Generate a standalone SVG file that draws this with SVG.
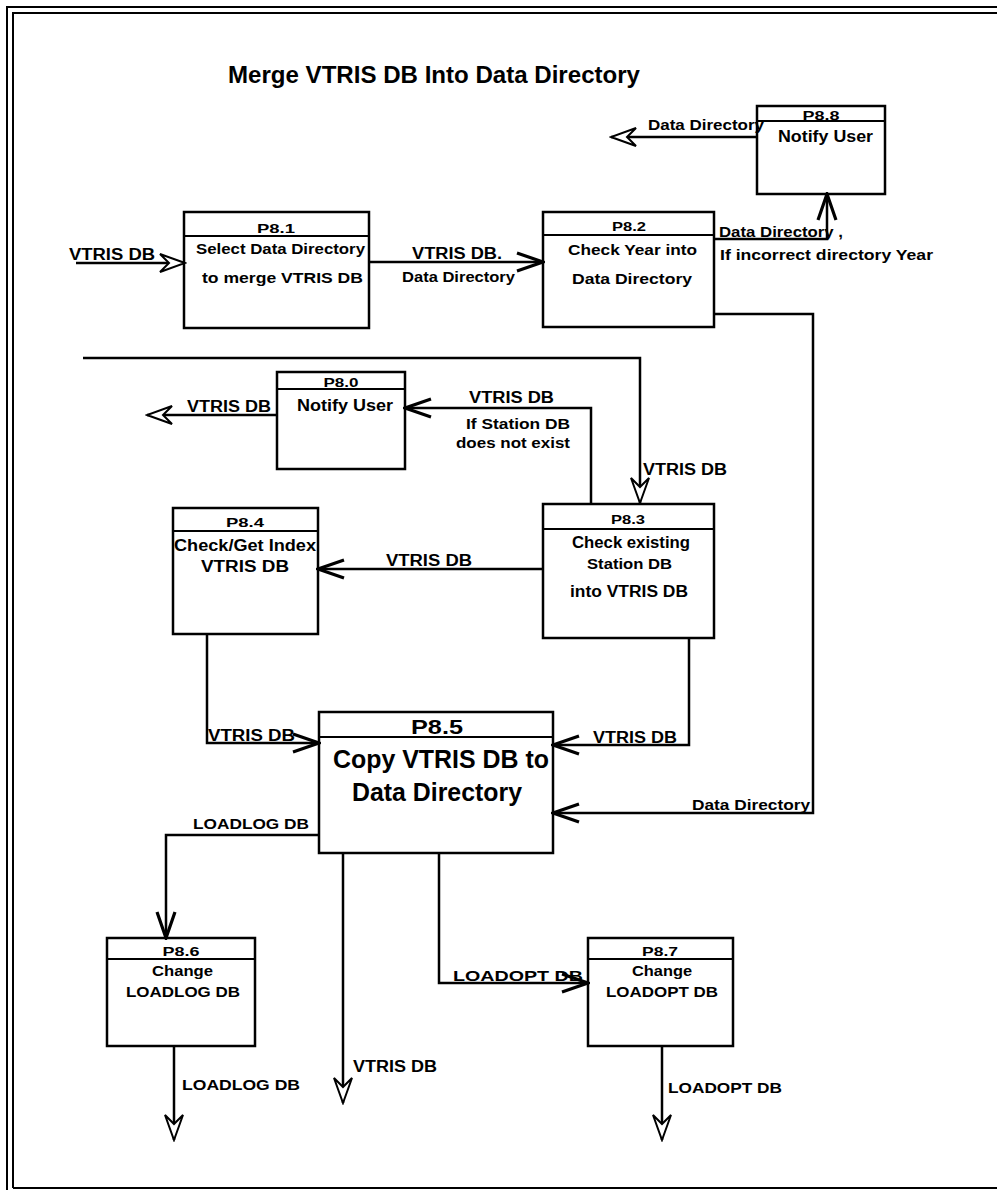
<svg xmlns="http://www.w3.org/2000/svg" width="997" height="1190" viewBox="0 0 997 1190">
<style>
.box{fill:#fff;stroke:#000;stroke-width:2.5}
.div{stroke:#000;stroke-width:2}
.conn{fill:none;stroke:#000;stroke-width:2.5}
.frame{fill:none;stroke:#000;stroke-width:2}
text{font-family:"Liberation Sans",Arial,sans-serif;font-weight:bold;fill:#000}
.t{font-size:15px}
.h{font-size:13px;text-anchor:middle}
.b{font-size:16px}
</style>
<defs>
<marker id="sa" viewBox="-30 -12 32 24" refX="0" refY="0" markerWidth="32" markerHeight="24" orient="auto" markerUnits="userSpaceOnUse">
<path d="M-26,-9 L0,0 L-26,9" fill="none" stroke="#000" stroke-width="3.2"/>
</marker>
<marker id="ha" viewBox="-30 -12 32 24" refX="0" refY="0" markerWidth="32" markerHeight="24" orient="auto" markerUnits="userSpaceOnUse">
<path d="M0,0 L-25,-9 L-16,0 L-25,9 Z" fill="#fff" stroke="#000" stroke-width="2"/>
</marker>
</defs>
<rect width="997" height="1190" fill="#fff"/>
<g id="frame">
<path class="frame" d="M7,1190 V7 H997"/>
<path class="frame" d="M13,1188 V13 H997 M13,1188 H997"/>
</g>
<text id="title" x="228" y="83" font-size="24" textLength="412" lengthAdjust="spacingAndGlyphs">Merge VTRIS DB Into Data Directory</text>

<g id="P8.1">
<rect class="box" x="184" y="212" width="185" height="116"/>
<line class="div" x1="184" y1="236" x2="369" y2="236"/>
<text class="h" x="276" y="233" textLength="38" lengthAdjust="spacingAndGlyphs">P8.1</text>
<text class="t" x="196" y="254" textLength="169" lengthAdjust="spacingAndGlyphs">Select Data Directory</text>
<text class="t" x="202" y="283" textLength="161" lengthAdjust="spacingAndGlyphs">to merge VTRIS DB</text>
</g>
<g id="P8.2">
<rect class="box" x="543" y="212" width="171" height="115"/>
<line class="div" x1="543" y1="235" x2="714" y2="235"/>
<text class="h" x="629" y="231" textLength="34" lengthAdjust="spacingAndGlyphs">P8.2</text>
<text class="t" x="568" y="255" textLength="129" lengthAdjust="spacingAndGlyphs">Check Year into</text>
<text class="t" x="572" y="284" textLength="120" lengthAdjust="spacingAndGlyphs">Data Directory</text>
</g>
<g id="P8.8">
<rect class="box" x="757" y="106" width="128" height="88"/>
<line class="div" x1="757" y1="121" x2="885" y2="121"/>
<text class="h" x="821" y="120" textLength="37" lengthAdjust="spacingAndGlyphs">P8.8</text>
<text class="b" x="778" y="142" textLength="95" lengthAdjust="spacingAndGlyphs">Notify User</text>
</g>
<g id="P8.0">
<rect class="box" x="277" y="372" width="128" height="97"/>
<line class="div" x1="277" y1="389" x2="405" y2="389"/>
<text class="h" x="341" y="387" font-size="12" textLength="35" lengthAdjust="spacingAndGlyphs">P8.0</text>
<text class="b" x="297" y="411" textLength="96" lengthAdjust="spacingAndGlyphs">Notify User</text>
</g>
<g id="P8.3">
<rect class="box" x="543" y="504" width="171" height="134"/>
<line class="div" x1="543" y1="529" x2="714" y2="529"/>
<text class="h" x="628" y="524" textLength="34" lengthAdjust="spacingAndGlyphs">P8.3</text>
<text class="b" x="572" y="548" textLength="118" lengthAdjust="spacingAndGlyphs">Check existing</text>
<text class="t" x="587" y="569" textLength="85" lengthAdjust="spacingAndGlyphs">Station DB</text>
<text class="b" x="570" y="597" textLength="118" lengthAdjust="spacingAndGlyphs">into VTRIS DB</text>
</g>
<g id="P8.4">
<rect class="box" x="173" y="508" width="145" height="126"/>
<line class="div" x1="173" y1="531" x2="318" y2="531"/>
<text class="h" x="245" y="527" textLength="38" lengthAdjust="spacingAndGlyphs">P8.4</text>
<text class="b" x="174" y="551" textLength="142" lengthAdjust="spacingAndGlyphs">Check/Get Index</text>
<text class="b" x="201" y="572" textLength="88" lengthAdjust="spacingAndGlyphs">VTRIS DB</text>
</g>
<g id="P8.5">
<rect class="box" x="319" y="712" width="234" height="141"/>
<line class="div" x1="319" y1="737" x2="553" y2="737"/>
<text x="437" y="734" font-size="21" text-anchor="middle" textLength="52" lengthAdjust="spacingAndGlyphs">P8.5</text>
<text x="333" y="768" font-size="26" textLength="216" lengthAdjust="spacingAndGlyphs">Copy VTRIS DB to</text>
<text x="352" y="801" font-size="26" textLength="170" lengthAdjust="spacingAndGlyphs">Data Directory</text>
</g>
<g id="P8.6">
<rect class="box" x="107" y="938" width="148" height="108"/>
<line class="div" x1="107" y1="959" x2="255" y2="959"/>
<text class="h" x="181" y="956" textLength="37" lengthAdjust="spacingAndGlyphs">P8.6</text>
<text class="t" x="152" y="976" textLength="61" lengthAdjust="spacingAndGlyphs">Change</text>
<text class="t" x="126" y="997" textLength="114" lengthAdjust="spacingAndGlyphs">LOADLOG DB</text>
</g>
<g id="P8.7">
<rect class="box" x="588" y="938" width="145" height="108"/>
<line class="div" x1="588" y1="959" x2="733" y2="959"/>
<text class="h" x="660" y="956" textLength="36" lengthAdjust="spacingAndGlyphs">P8.7</text>
<text class="t" x="632" y="976" textLength="60" lengthAdjust="spacingAndGlyphs">Change</text>
<text class="t" x="606" y="997" textLength="112" lengthAdjust="spacingAndGlyphs">LOADOPT DB</text>
</g>

<g id="connectors">
<path class="conn" d="M76,263 H185" marker-end="url(#ha)"/>
<path class="conn" d="M369,262 H543" marker-end="url(#sa)"/>
<path class="conn" d="M714,239 H827 V194" marker-end="url(#sa)"/>
<path class="conn" d="M757,137 H611" marker-end="url(#ha)"/>
<path class="conn" d="M714,314 H813 V813 H553" marker-end="url(#sa)"/>
<path class="conn" d="M83,358 H640 V503" marker-end="url(#ha)"/>
<path class="conn" d="M591,503 V408 H405" marker-end="url(#sa)"/>
<path class="conn" d="M277,415 H147" marker-end="url(#ha)"/>
<path class="conn" d="M543,569 H318" marker-end="url(#sa)"/>
<path class="conn" d="M207,634 V743 H319" marker-end="url(#sa)"/>
<path class="conn" d="M689,638 V745 H553" marker-end="url(#sa)"/>
<path class="conn" d="M319,835 H166 V938" marker-end="url(#sa)"/>
<path class="conn" d="M343,853 V1103" marker-end="url(#ha)"/>
<path class="conn" d="M439,853 V983 H588" marker-end="url(#sa)"/>
<path class="conn" d="M174,1046 V1140" marker-end="url(#ha)"/>
<path class="conn" d="M662,1046 V1140" marker-end="url(#ha)"/>
<text class="b" x="69" y="260" textLength="86" lengthAdjust="spacingAndGlyphs">VTRIS DB</text>
<text class="b" x="412" y="259" textLength="90" lengthAdjust="spacingAndGlyphs">VTRIS DB.</text>
<text class="t" x="402" y="282" textLength="113" lengthAdjust="spacingAndGlyphs">Data Directory</text>
<text class="t" x="648" y="130" textLength="116" lengthAdjust="spacingAndGlyphs">Data Directory</text>
<text class="t" x="719" y="237" textLength="124" lengthAdjust="spacingAndGlyphs">Data Directory ,</text>
<text class="t" x="720" y="260" textLength="213" lengthAdjust="spacingAndGlyphs">If incorrect directory Year</text>
<text class="b" x="469" y="403" textLength="85" lengthAdjust="spacingAndGlyphs">VTRIS DB</text>
<text class="t" x="466" y="429" textLength="104" lengthAdjust="spacingAndGlyphs">If Station DB</text>
<text class="t" x="456" y="448" textLength="114" lengthAdjust="spacingAndGlyphs">does not exist</text>
<text class="b" x="187" y="412" textLength="84" lengthAdjust="spacingAndGlyphs">VTRIS DB</text>
<text class="b" x="643" y="475" textLength="84" lengthAdjust="spacingAndGlyphs">VTRIS DB</text>
<text class="b" x="386" y="566" textLength="86" lengthAdjust="spacingAndGlyphs">VTRIS DB</text>
<text class="b" x="208" y="741" textLength="87" lengthAdjust="spacingAndGlyphs">VTRIS DB</text>
<text class="b" x="593" y="743" textLength="84" lengthAdjust="spacingAndGlyphs">VTRIS DB</text>
<text class="t" x="692" y="810" textLength="118" lengthAdjust="spacingAndGlyphs">Data Directory</text>
<text class="t" x="193" y="829" textLength="116" lengthAdjust="spacingAndGlyphs">LOADLOG DB</text>
<text class="t" x="453" y="981" textLength="130" lengthAdjust="spacingAndGlyphs">LOADOPT DB</text>
<text class="b" x="353" y="1072" textLength="84" lengthAdjust="spacingAndGlyphs">VTRIS DB</text>
<text class="t" x="182" y="1090" textLength="118" lengthAdjust="spacingAndGlyphs">LOADLOG DB</text>
<text class="t" x="668" y="1093" textLength="114" lengthAdjust="spacingAndGlyphs">LOADOPT DB</text>
</g>
</svg>
